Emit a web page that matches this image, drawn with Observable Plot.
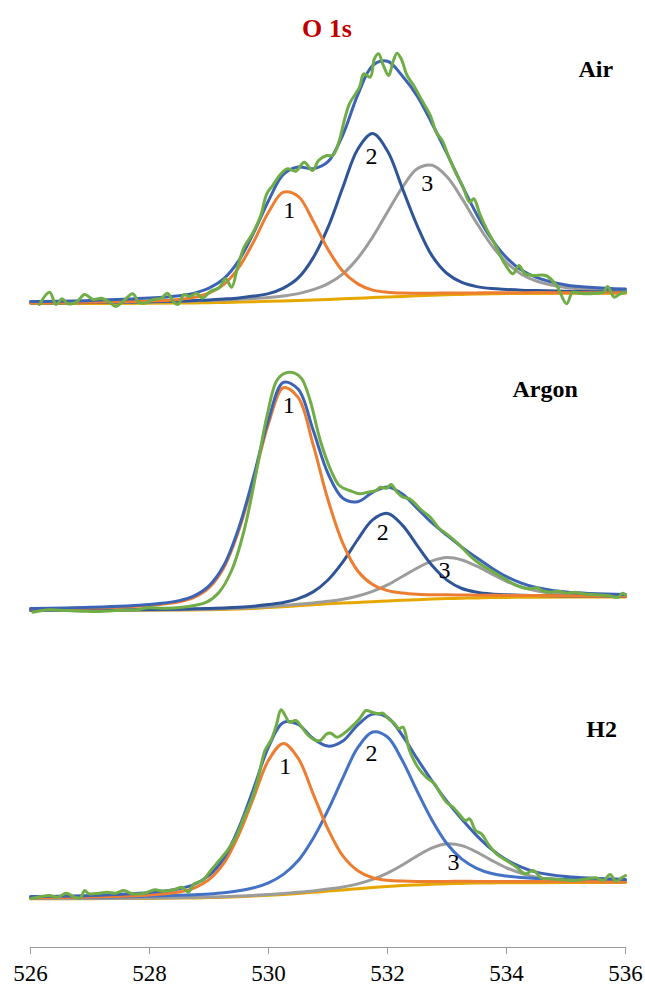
<!DOCTYPE html>
<html>
<head>
<meta charset="utf-8">
<script src="https://cdn.jsdelivr.net/npm/d3@7"></script>
<script src="https://cdn.jsdelivr.net/npm/@observablehq/plot@0.6"></script>
<style>
html, body { margin: 0; padding: 0; background: #fff; }
#title {
  height: 44px; box-sizing: border-box; padding-top: 16px; padding-left: 302px;
  font: bold 26px/26px "Liberation Serif", "Times New Roman", serif; color: #C00000;
}
</style>
</head>
<body>
<div id="title">O 1s</div>
<div id="chart"></div>
<script>
// ---- categories ----
const panels = ["Air", "Argon", "H2"];
const xTicks = [526, 528, 530, 532, 534, 536];

// ---- shared binding-energy grid for fitted curves (eV) ----
const gridE = [526, 527, 528, 528.5, 528.75, 529, 529.25, 529.5, 529.75, 530, 530.25, 530.5, 530.75, 531, 531.25, 531.5, 531.75, 532, 532.25, 532.5, 532.75, 533, 533.25, 533.5, 533.75, 534, 534.25, 534.5, 535, 536];

// ---- Air: fitted curves (intensity, a.u.) ----
const airBaseline = [42, 42, 42.2, 42.4, 42.6, 42.8, 43.1, 43.4, 43.8, 44.2, 44.6, 45.1, 45.6, 46.1, 46.7, 47.3, 47.9, 48.5, 49.1, 49.7, 50.2, 50.7, 51.1, 51.4, 51.7, 51.9, 52, 52.1, 52.2, 52.3];
const airPeak1 = [42.7, 43.2, 44.4, 46.1, 48.1, 52.5, 61.1, 77.9, 103.8, 133.2, 153.3, 149.1, 124.6, 96.1, 74.2, 61.6, 55.4, 53.2, 52.4, 52.3, 52.3, 52.5, 52.6, 52.6, 52.8, 52.8, 52.8, 52.9, 52.8, 52.7];
const airPeak2 = [42.7, 43, 43.8, 44.4, 45, 45.6, 46.5, 47.6, 49.4, 51.9, 57.4, 67.6, 87.6, 118.1, 158.2, 196.3, 211.9, 194.5, 157.1, 119.7, 89.6, 72, 63.1, 58.9, 56.9, 56, 55.3, 54.9, 54.2, 53.5];
const airPeak3 = [42.7, 42.9, 43.6, 44.1, 44.5, 44.9, 45.5, 46.2, 47.1, 48.1, 49.6, 51.9, 55.8, 61.8, 71.7, 87.3, 108.4, 133.5, 158.1, 176.7, 180.2, 168.7, 147.1, 122.4, 100.2, 82.9, 71.3, 64.5, 58, 54.9];
const airEnvelope = [44.1, 45.1, 47.4, 49.8, 52.4, 57.4, 66.9, 84.9, 112.7, 144.8, 171.1, 178.4, 176.8, 183.8, 210.7, 250.6, 279.9, 284.2, 269.4, 249.3, 221.7, 191.8, 160.6, 131.1, 106.5, 87.9, 75.4, 68.1, 60.6, 56.5];
// Air: measured spectrum
const airDataE = [526.15, 526.32, 526.43, 526.53, 526.63, 526.77, 526.91, 527.05, 527.19, 527.33, 527.43, 527.57, 527.72, 527.82, 527.92, 528.06, 528.2, 528.3, 528.41, 528.48, 528.58, 528.68, 528.79, 528.89, 529.03, 529.17, 529.28, 529.38, 529.48, 529.59, 529.73, 529.87, 529.97, 530.07, 530.21, 530.32, 530.46, 530.6, 530.74, 530.84, 530.98, 531.08, 531.19, 531.26, 531.36, 531.53, 531.6, 531.71, 531.78, 531.85, 531.92, 532.02, 532.09, 532.16, 532.23, 532.33, 532.44, 532.58, 532.72, 532.82, 532.92, 533.03, 533.13, 533.27, 533.38, 533.45, 533.55, 533.65, 533.83, 533.97, 534.11, 534.21, 534.31, 534.45, 534.66, 534.84, 535.01, 535.11, 535.22, 535.36, 535.5, 535.63, 535.7, 535.81, 535.91, 536];
const airDataI = [41, 53.3, 41, 46.7, 41.7, 43.3, 51, 46, 47.3, 43.3, 39, 45, 51.7, 43.3, 42.3, 46, 47.3, 52.3, 43.3, 41, 51, 49, 52.3, 47.3, 54.3, 57.7, 66.7, 58.3, 78.3, 98.3, 111.7, 130, 151.7, 160, 171.7, 176.7, 174.3, 183.3, 175, 185, 190, 190, 205, 221.7, 241.7, 258.3, 271.7, 268.3, 286.7, 291.7, 281.7, 270, 283.3, 292.3, 286.7, 270, 260, 245, 230, 213.3, 205, 188.3, 175, 158.3, 143.3, 146.7, 131.7, 118.3, 98.3, 81.7, 71.7, 80, 71.7, 70, 70, 60, 41.7, 53.3, 52.3, 51.7, 52.3, 53.3, 59, 48.3, 51.7, 53.3];

// ---- Argon ----
const arBaseline = [36, 36, 36.2, 36.4, 36.6, 36.8, 37.1, 37.5, 38.1, 38.9, 39.8, 40.8, 41.8, 42.7, 43.4, 44.1, 44.8, 45.5, 46.2, 46.8, 47.4, 47.9, 48.3, 48.6, 48.9, 49.1, 49.2, 49.3, 49.4, 49.5];
const arPeak1 = [37.5, 38.4, 41.1, 44.6, 49, 58.8, 79.1, 116, 167.1, 222.9, 258.8, 248.8, 201.8, 146.7, 103.1, 75.5, 62, 55.9, 53.5, 52.3, 51.8, 51.7, 51.5, 51.3, 51.2, 51.1, 51, 50.9, 50.7, 50.4];
const arPeak2 = [36.3, 36.5, 36.9, 37.3, 37.7, 38.1, 38.6, 39.3, 40.3, 41.9, 44, 47.8, 54.6, 66.5, 84.6, 107, 126.6, 133.1, 121.4, 100.9, 80.9, 66.4, 58, 54.3, 52.5, 51.7, 51.2, 51, 50.6, 50.2];
const arPeak3 = [36.2, 36.3, 36.5, 36.8, 37.1, 37.3, 37.7, 38.2, 38.9, 39.8, 40.9, 42.2, 43.6, 45.2, 47.3, 50.5, 55.2, 61.6, 70, 78.5, 85.6, 88.9, 86.5, 80.3, 72.7, 65.2, 59.6, 55.7, 51.9, 50.4];
const arEnvelope = [38, 39.2, 42.1, 45.9, 50.6, 60.6, 81.2, 118.5, 170.1, 226.8, 264.1, 257.2, 216.4, 173, 148.2, 144.8, 154.2, 159.6, 152.5, 138.1, 123.5, 111.2, 99.4, 88.7, 78.6, 69.8, 63.4, 59, 54.4, 52];
const arDataE = [526.04, 526.32, 526.6, 526.88, 527.16, 527.43, 527.78, 527.99, 528.27, 528.55, 528.75, 528.96, 529.17, 529.38, 529.59, 529.8, 529.97, 530.14, 530.28, 530.44, 530.56, 530.7, 530.87, 531.05, 531.19, 531.36, 531.53, 531.67, 531.81, 531.88, 531.99, 532.06, 532.16, 532.26, 532.37, 532.44, 532.58, 532.72, 532.85, 532.99, 533.13, 533.27, 533.41, 533.55, 533.69, 533.83, 533.97, 534.11, 534.25, 534.38, 534.52, 534.59, 534.73, 534.87, 535.01, 535.15, 535.29, 535.5, 535.7, 535.88, 535.95, 536];
const arDataI = [34.3, 36.7, 36, 35.3, 35, 36, 36.7, 38.7, 38.3, 39.3, 41, 44.3, 54.3, 76, 116, 176, 229.3, 266, 273.3, 273.3, 267.7, 246, 206, 176, 161, 156, 152.7, 154.3, 156, 159.3, 158.3, 162, 154.3, 149.3, 147.7, 144.3, 136, 129.3, 119.3, 112.7, 106, 97.7, 89.3, 82.7, 77.7, 72.7, 67.7, 62.7, 59.3, 57.7, 58.7, 56, 54.3, 55.3, 53.3, 54.3, 52.7, 51.7, 51, 49.3, 53.3, 51.7];

// ---- H2 ----
const h2Baseline = [48.7, 48.8, 49.1, 49.4, 49.6, 49.9, 50.3, 50.8, 51.4, 52.2, 53.1, 54.1, 55.2, 56.4, 57.6, 58.8, 60, 61, 61.9, 62.6, 63.2, 63.7, 64.1, 64.4, 64.6, 64.7, 64.8, 64.8, 64.9, 65];
const h2Peak1 = [49.8, 50.5, 52.6, 55.6, 59.4, 67.9, 84.3, 112.8, 149.9, 187.2, 204.1, 189.1, 153.7, 118.4, 91.6, 76.8, 69.8, 67.2, 66.4, 66.1, 66.1, 66.1, 66.2, 66.1, 66.1, 66, 66, 65.9, 65.8, 65.6];
const h2Peak2 = [49.7, 50.2, 51.3, 52.2, 52.8, 53.6, 54.8, 56.7, 59.7, 64.7, 73.1, 86.9, 109, 137.4, 169.6, 199.8, 215.5, 210.5, 186.9, 156.2, 127.2, 103.7, 88.3, 79.2, 74, 71.4, 69.9, 68.9, 67.9, 66.7];
const h2Peak3 = [48.9, 49, 49.4, 49.8, 50, 50.4, 50.8, 51.4, 52.1, 53, 54, 55.2, 56.6, 58.4, 60.6, 63.6, 68.1, 74.4, 82.5, 91.6, 99.6, 103.7, 101.9, 95.4, 87.2, 79.7, 74.1, 70.2, 67.1, 65.8];
const h2Envelope = [51, 52.1, 55.1, 58.8, 63, 72.1, 89.3, 119.3, 158.9, 200.5, 225, 223, 208.9, 201.4, 206.6, 222.6, 233.4, 230.1, 212, 188.7, 166.5, 146.1, 128.2, 111.9, 98.1, 87.7, 80.4, 75.4, 71, 68.1];
const h2DataE = [526.01, 526.18, 526.32, 526.46, 526.6, 526.74, 526.84, 526.91, 526.98, 527.16, 527.29, 527.43, 527.57, 527.71, 527.92, 528.09, 528.23, 528.41, 528.55, 528.65, 528.75, 528.89, 529.03, 529.17, 529.31, 529.45, 529.59, 529.73, 529.83, 529.94, 530.04, 530.13, 530.21, 530.28, 530.35, 530.46, 530.56, 530.67, 530.77, 530.87, 530.98, 531.05, 531.15, 531.26, 531.39, 531.53, 531.64, 531.74, 531.85, 531.92, 532.02, 532.12, 532.19, 532.26, 532.37, 532.51, 532.65, 532.79, 532.89, 532.99, 533.1, 533.2, 533.31, 533.38, 533.48, 533.58, 533.69, 533.83, 534, 534.17, 534.31, 534.45, 534.59, 534.73, 534.94, 535.15, 535.36, 535.5, 535.63, 535.74, 535.84, 535.95, 536];
const h2DataI = [48.7, 51, 52, 50.3, 54.3, 50.3, 49.7, 57, 53.7, 54.3, 55.3, 54.3, 57, 53.7, 54.3, 57.7, 56.3, 57.7, 60.3, 55.3, 63.7, 67, 77, 87, 97, 110.3, 130.3, 150.3, 170.3, 197, 207, 222, 237.7, 232, 225.3, 227, 220.3, 212, 207.7, 207, 213.7, 214.3, 210.3, 213.7, 220.3, 228.7, 237, 235.3, 233.7, 234.3, 228.7, 223.7, 218.7, 220.3, 197, 180.3, 170.3, 163.7, 153.7, 145.3, 140.3, 133.7, 127, 128.7, 117, 113.7, 103.7, 93.7, 87, 80.3, 73.7, 77, 69.3, 68.7, 67.7, 67, 68.7, 69.7, 67, 73, 66.3, 70.3, 72];

// ---- annotations ----
const peakLabelPanel = ["Air", "Air", "Air", "Argon", "Argon", "Argon", "H2", "H2", "H2"];
const peakLabelText = ["1", "2", "3", "1", "2", "3", "1", "2", "3"];
const peakLabelE = [530.35, 531.73, 532.67, 530.34, 531.92, 532.96, 530.28, 531.73, 533.11];
const peakLabelI = [135, 189, 162, 241, 114, 76, 181, 194, 85];
const panelNameE = [535.5, 534.65, 535.6];
const panelNameI = [276, 257, 218];

// ---- series keys and colours ----
const seriesKeys = ["baseline", "peak3", "peak2dark", "peak2", "peak1", "envelope", "data"];
const seriesColors = ["#E6A800", "#9C9C9C", "#2F5597", "#4472C4", "#ED7D31", "#3D63B4", "#70AD47"];

// ---- build tidy table ----
const rows = [];
function addCurve(panel, series, xs, ys) {
  xs.forEach((x, i) => rows.push({panel, series, x, y: ys[i]}));
}
addCurve("Air", "baseline", gridE, airBaseline);
addCurve("Air", "peak3", gridE, airPeak3);
addCurve("Air", "peak2dark", gridE, airPeak2);
addCurve("Air", "peak1", gridE, airPeak1);
addCurve("Air", "envelope", gridE, airEnvelope);
addCurve("Air", "data", airDataE, airDataI);
addCurve("Argon", "baseline", gridE, arBaseline);
addCurve("Argon", "peak3", gridE, arPeak3);
addCurve("Argon", "peak2dark", gridE, arPeak2);
addCurve("Argon", "peak1", gridE, arPeak1);
addCurve("Argon", "envelope", gridE, arEnvelope);
addCurve("Argon", "data", arDataE, arDataI);
addCurve("H2", "baseline", gridE, h2Baseline);
addCurve("H2", "peak3", gridE, h2Peak3);
addCurve("H2", "peak2", gridE, h2Peak2);
addCurve("H2", "peak1", gridE, h2Peak1);
addCurve("H2", "envelope", gridE, h2Envelope);
addCurve("H2", "data", h2DataE, h2DataI);

const peakLabels = peakLabelText.map((t, i) => ({panel: peakLabelPanel[i], text: t, x: peakLabelE[i], y: peakLabelI[i]}));
const panelNames = panels.map((p, i) => ({panel: p, text: p, x: panelNameE[i], y: panelNameI[i]}));
const axisLine = [{panel: panels[panels.length - 1], y: 0}];

const serif = '"Liberation Serif", "Times New Roman", serif';

const chart = Plot.plot({
  width: 645,
  height: 942,
  marginTop: 0,
  marginBottom: 39,
  marginLeft: 30,
  marginRight: 20,
  style: {fontFamily: serif, background: "#fff", overflow: "visible"},
  x: {domain: [526, 536]},
  y: {domain: [0, 301], axis: null},
  fy: {domain: panels, padding: 0, axis: null},
  color: {domain: seriesKeys, range: seriesColors},
  marks: [
    Plot.ruleY(axisLine, {y: "y", fy: "panel", stroke: "#9a9a9a", strokeWidth: 1.2}),
    Plot.axisX({ticks: xTicks, tickSize: 7, tickPadding: 10, fontSize: 23, fontFamily: serif, stroke: "#9a9a9a", fill: "#000", label: null, tickFormat: d => String(d)}),
    Plot.line(rows, {x: "x", y: "y", z: "series", stroke: "series", fy: "panel", strokeWidth: 3, curve: "catmull-rom"}),
    Plot.text(peakLabels, {x: "x", y: "y", text: "text", fy: "panel", fontSize: 24, fontFamily: serif, fill: "#000"}),
    Plot.text(panelNames, {x: "x", y: "y", text: "text", fy: "panel", fontSize: 24, fontWeight: "bold", fontFamily: serif, fill: "#000"})
  ]
});
document.getElementById("chart").appendChild(chart);
</script>
</body>
</html>
